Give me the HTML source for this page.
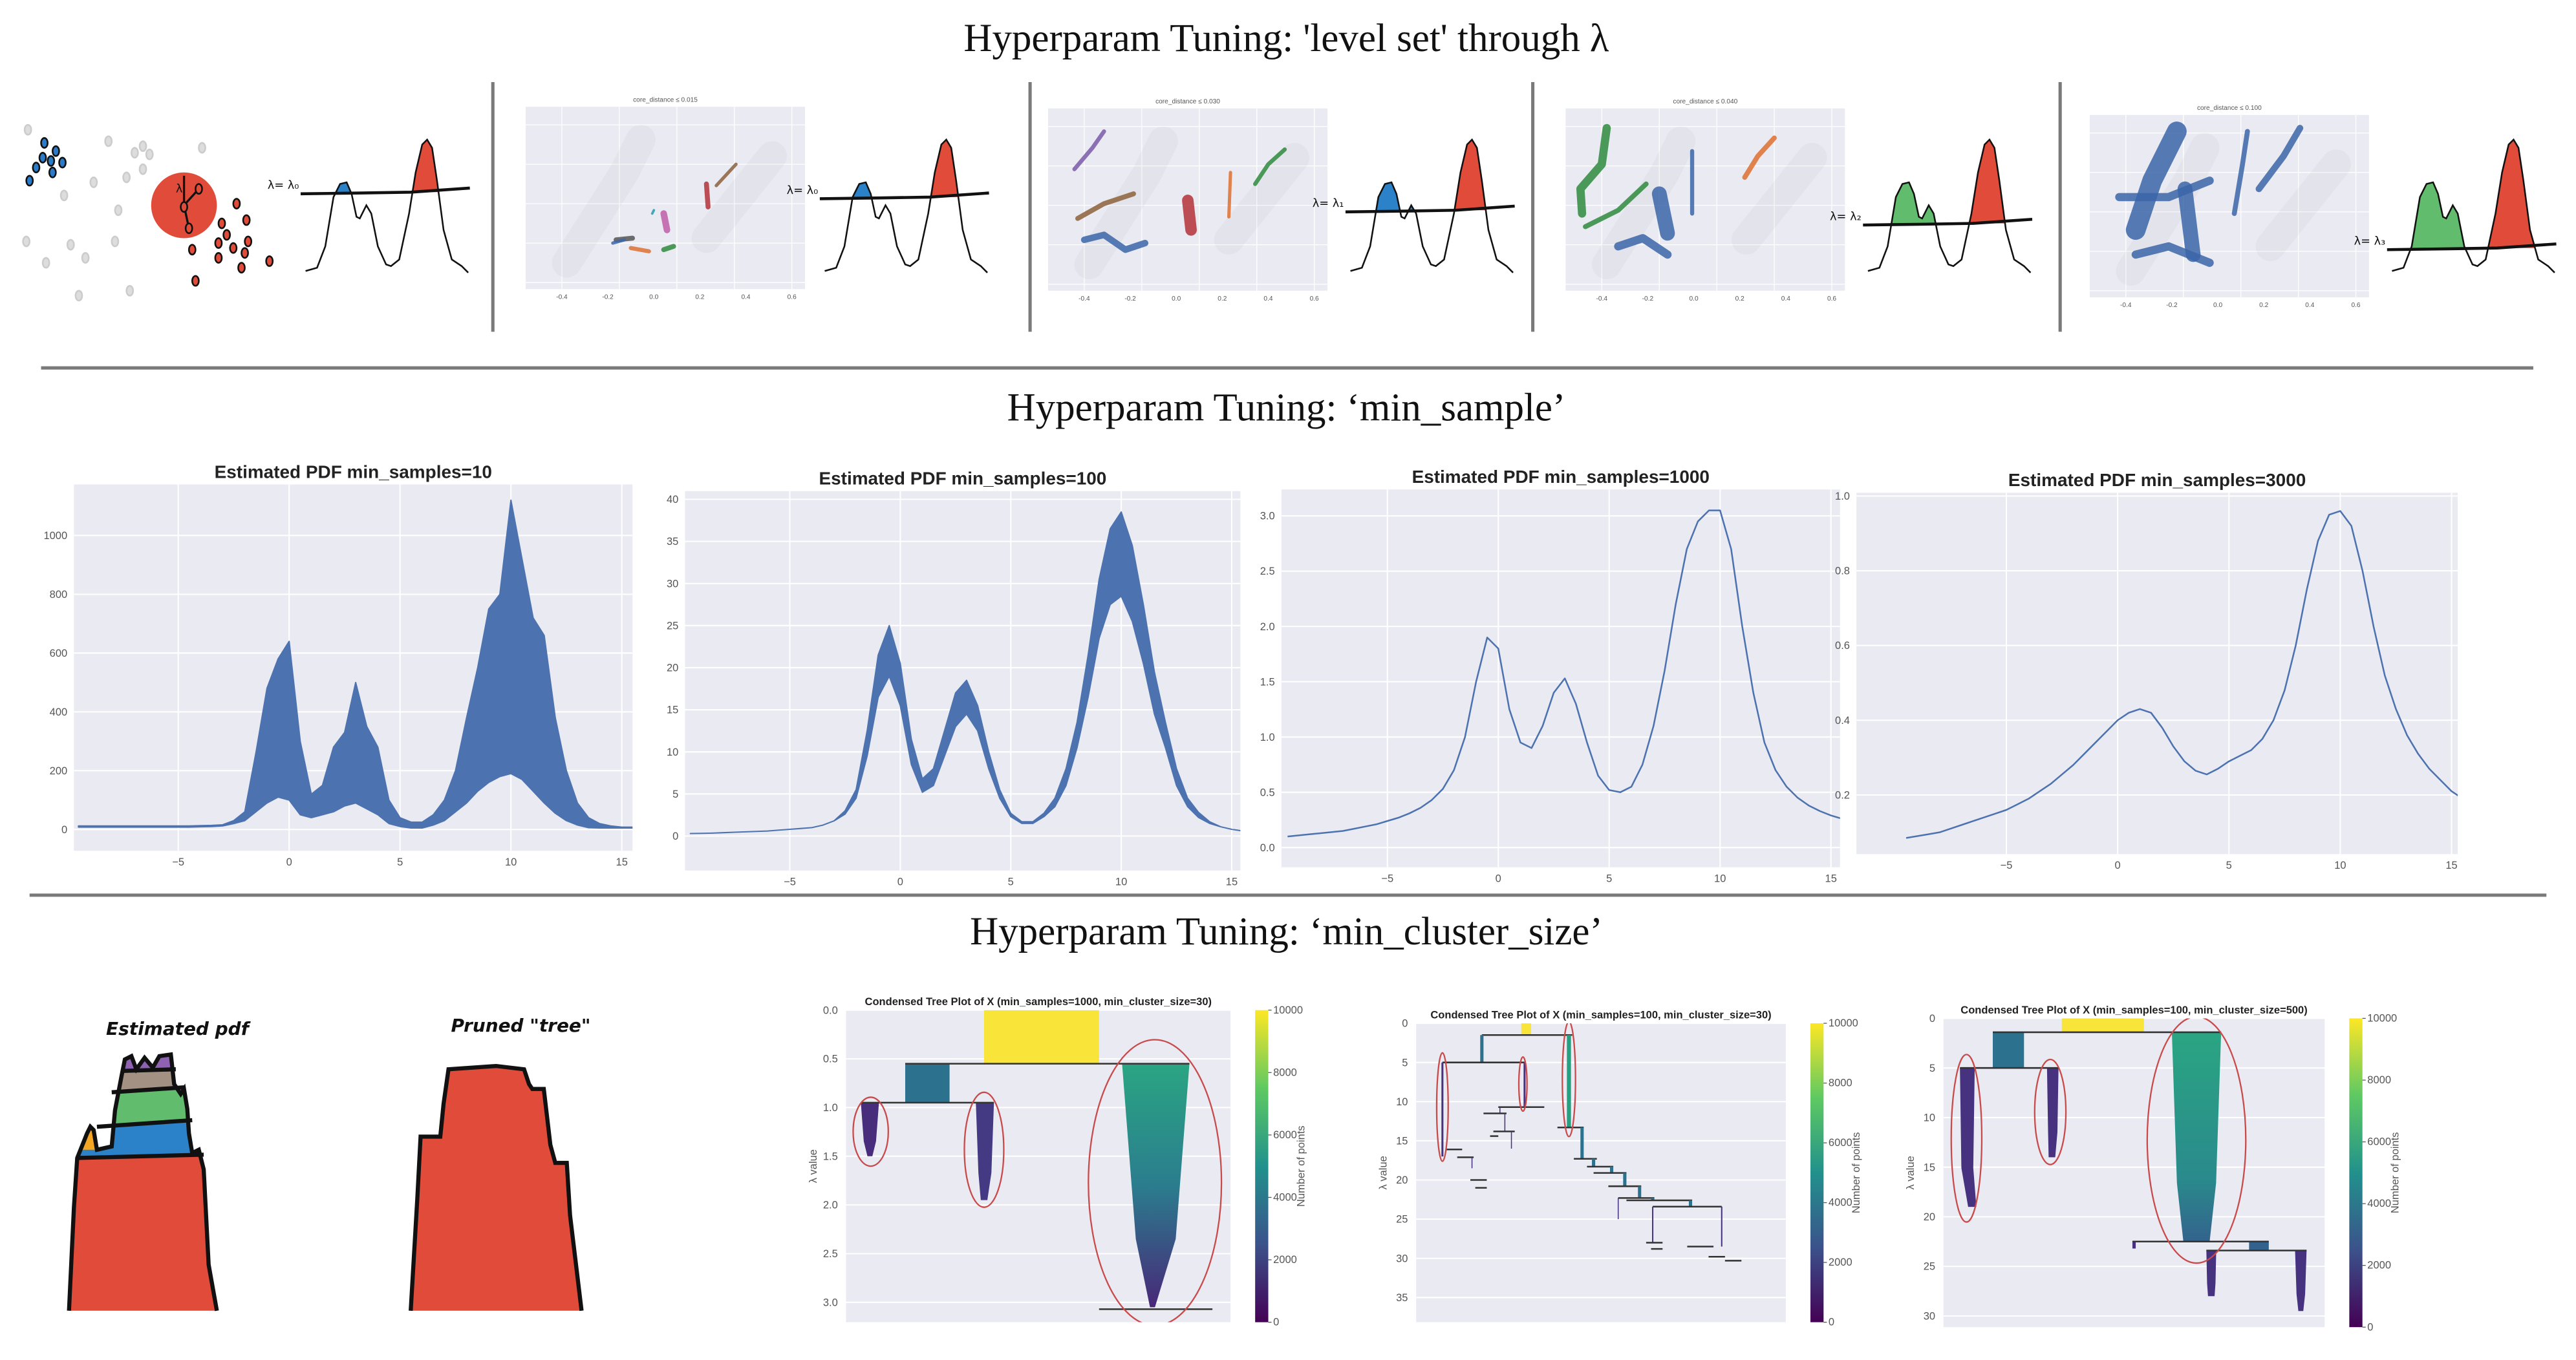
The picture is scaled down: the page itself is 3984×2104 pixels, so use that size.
<!DOCTYPE html>
<html><head><meta charset="utf-8">
<style>
html,body{margin:0;padding:0;background:#fff;}
svg{display:block;}
.ttl{font-family:"Liberation Serif",serif;font-size:24px;fill:#111;text-anchor:middle;}
.ct{font-family:"Liberation Sans",sans-serif;font-weight:bold;font-size:11px;fill:#222;text-anchor:middle;}
.tk{font-family:"Liberation Sans",sans-serif;font-size:6.5px;fill:#555;}
.tt{font-family:"Liberation Sans",sans-serif;font-weight:bold;font-size:6.5px;fill:#222;text-anchor:middle;}
.hand{font-family:"DejaVu Sans",sans-serif;font-style:italic;font-weight:bold;font-size:11px;fill:#111;text-anchor:middle;}
.mini{font-family:"Liberation Sans",sans-serif;font-size:4px;fill:#555;}
</style></head>
<body>
<svg id="root" width="3984" height="2104" viewBox="0 0 1568 828" preserveAspectRatio="none" xmlns="http://www.w3.org/2000/svg">
<defs>
<linearGradient id="vir" x1="0" y1="1" x2="0" y2="0">
<stop offset="0" stop-color="#440154"/><stop offset="0.25" stop-color="#3b528b"/><stop offset="0.5" stop-color="#21918c"/><stop offset="0.75" stop-color="#5ec962"/><stop offset="1" stop-color="#fde725"/>
</linearGradient>
<linearGradient id="cone1" x1="0" y1="0" x2="0" y2="1"><stop offset="0" stop-color="#2aa582"/><stop offset="0.5" stop-color="#2b7d8e"/><stop offset="1" stop-color="#482878"/></linearGradient>
<linearGradient id="cone3" x1="0" y1="0" x2="0" y2="1"><stop offset="0" stop-color="#2aa582"/><stop offset="0.7" stop-color="#2a8a8c"/><stop offset="1" stop-color="#33638d"/></linearGradient>
</defs>

<text class="ttl" x="783" y="31">Hyperparam Tuning: 'level set' through λ</text>
<text class="ttl" x="783" y="256">Hyperparam Tuning: ‘min_sample’</text>
<text class="ttl" x="783" y="575">Hyperparam Tuning: ‘min_cluster_size’</text>

<g stroke="#7a7a7a" stroke-width="2">
<line x1="300" y1="50" x2="300" y2="202"/><line x1="627" y1="50" x2="627" y2="202"/>
<line x1="933" y1="50" x2="933" y2="202"/><line x1="1254" y1="50" x2="1254" y2="202"/>
<line x1="25" y1="224" x2="1542" y2="224"/><line x1="18" y1="545" x2="1550" y2="545"/>
</g>

<g id="schematic" stroke="#111" stroke-width="1">
<g fill="#ddd" stroke="#ccc">
<ellipse cx="17" cy="79" rx="2" ry="3"/><ellipse cx="66" cy="86" rx="2" ry="3"/><ellipse cx="87" cy="89" rx="2" ry="3"/><ellipse cx="123" cy="90" rx="2" ry="3"/>
<ellipse cx="82" cy="93" rx="2" ry="3"/><ellipse cx="91" cy="94" rx="2" ry="3"/><ellipse cx="87" cy="103" rx="2" ry="3"/><ellipse cx="57" cy="111" rx="2" ry="3"/>
<ellipse cx="77" cy="108" rx="2" ry="3"/><ellipse cx="39" cy="119" rx="2" ry="3"/><ellipse cx="72" cy="128" rx="2" ry="3"/><ellipse cx="70" cy="147" rx="2" ry="3"/>
<ellipse cx="16" cy="147" rx="2" ry="3"/><ellipse cx="43" cy="149" rx="2" ry="3"/><ellipse cx="52" cy="157" rx="2" ry="3"/><ellipse cx="28" cy="160" rx="2" ry="3"/>
<ellipse cx="48" cy="180" rx="2" ry="3"/><ellipse cx="79" cy="177" rx="2" ry="3"/></g>
<g fill="#2b7bc8">
<ellipse cx="27" cy="87" rx="2" ry="3"/><ellipse cx="34" cy="92" rx="2" ry="3"/><ellipse cx="26" cy="96" rx="2" ry="3"/><ellipse cx="31" cy="98" rx="2" ry="3"/>
<ellipse cx="38" cy="99" rx="2" ry="3"/><ellipse cx="22" cy="102" rx="2" ry="3"/><ellipse cx="32" cy="105" rx="2" ry="3"/><ellipse cx="18" cy="110" rx="2" ry="3"/></g>
<ellipse cx="112" cy="125" rx="20" ry="20" fill="#e04b3a" stroke="none"/>
<path d="M112 107 L112 124 M112 125 L121 115 M112 125 L115 139" fill="none" stroke-width="1.3"/>
<g fill="#e04b3a"><ellipse cx="121" cy="115" rx="2" ry="3"/><ellipse cx="112" cy="126" rx="2" ry="3"/><ellipse cx="115" cy="139" rx="2" ry="3"/>
<ellipse cx="144" cy="124" rx="2" ry="3"/><ellipse cx="150" cy="134" rx="2" ry="3"/><ellipse cx="135" cy="136" rx="2" ry="3"/><ellipse cx="138" cy="143" rx="2" ry="3"/>
<ellipse cx="151" cy="147" rx="2" ry="3"/><ellipse cx="133" cy="148" rx="2" ry="3"/><ellipse cx="142" cy="151" rx="2" ry="3"/><ellipse cx="149" cy="154" rx="2" ry="3"/>
<ellipse cx="117" cy="152" rx="2" ry="3"/><ellipse cx="133" cy="157" rx="2" ry="3"/><ellipse cx="164" cy="159" rx="2" ry="3"/><ellipse cx="147" cy="163" rx="2" ry="3"/><ellipse cx="119" cy="171" rx="2" ry="3"/></g>
<text x="107" y="117" font-size="7" stroke="none" fill="#111" font-family="DejaVu Sans">λ</text>
</g>

<g id="row1s"></g>
<g id="row1"></g>
<g id="row2"></g>
<g id="row3"></g>

<g>
<text class="hand" x="108" y="630">Estimated pdf</text>
<path d="M42 798 L45 735 L47 705 L53 690 L55 686 L57 688 L59 700 L68 698 L70 676 L74 655 L76 645 L80 643 L83 651 L88 644 L93 650 L97 643 L104 642 L106 660 L110 666 L112 663 L114 675 L115 690 L117 702 L121 700 L124 712 L127 770 L132 798 Z" fill="#e04b3a"/>
<clipPath id="drawclip"><path d="M42 798 L45 735 L47 705 L53 690 L55 686 L57 688 L59 700 L68 698 L70 676 L74 655 L76 645 L80 643 L83 651 L88 644 L93 650 L97 643 L104 642 L106 660 L110 666 L112 663 L114 675 L115 690 L117 702 L121 700 L124 712 L127 770 L132 798 Z"/></clipPath>
<g clip-path="url(#drawclip)">
<path d="M40 705 L130 702 L130 682 L40 686 Z" fill="#2b82c9"/>
<path d="M40 686 L130 682 L130 662 L40 665 Z" fill="#62bc6d"/>
<path d="M40 665 L130 662 L130 651 L40 652 Z" fill="#a39183"/>
<path d="M40 652 L130 651 L130 630 L40 630 Z" fill="#8e62b0"/>
<path d="M40 700 L60 700 L60 680 L40 680 Z" fill="#f5a623"/>
</g>
<path d="M42 798 L45 735 L47 705 L53 690 L55 686 L57 688 L59 700 L68 698 L70 676 L74 655 L76 645 L80 643 L83 651 L88 644 L93 650 L97 643 L104 642 L106 660 L110 666 L112 663 L114 675 L115 690 L117 702 L121 700 L124 712 L127 770 L132 798" fill="none" stroke="#111" stroke-width="2.5"/>
<path d="M47 705 L124 703 M59 686 L117 682 M68 665 L112 662 M74 652 L107 651" stroke="#111" stroke-width="2.5" fill="none"/>
</g>
<g transform="translate(2,0)">
<text class="hand" x="315" y="628">Pruned "tree"</text>
<path d="M248 798 L252 730 L254 692 L266 692 L268 672 L271 651 L300 649 L317 651 L320 660 L322 663 L329 663 L331 680 L333 697 L336 708 L343 708 L345 740 L352 798 Z" fill="#e04b3a"/>
<path d="M248 798 L252 730 L254 692 L266 692 L268 672 L271 651 L300 649 L317 651 L320 660 L322 663 L329 663 L331 680 L333 697 L336 708 L343 708 L345 740 L352 798" fill="none" stroke="#111" stroke-width="2.5"/>
</g>
</svg>

<script>
var xGrid=[-9.5,-9,-8.5,-8,-7.5,-7,-6.5,-6,-5.5,-5,-4.5,-4,-3.5,-3,-2.5,-2,-1.5,-1,-0.5,0,0.5,1,1.5,2,2.5,3,3.5,4,4.5,5,5.5,6,6.5,7,7.5,8,8.5,9,9.5,10,10.5,11,11.5,12,12.5,13,13.5,14,14.5,15,15.5];
var xTickLabels=[-5,0,5,10,15];
var pdf10Upper=[12,12,12,12,12,12,12,12,12,12,12,13,14,16,30,60,260,480,580,640,300,120,150,280,330,500,350,280,100,40,25,25,50,100,200,380,550,750,800,1120,920,720,660,380,200,90,40,20,12,8,8];
var pdf10Lower=[8,8,8,8,8,8,8,8,8,8,8,9,10,12,20,30,60,90,110,100,50,40,50,60,80,90,70,50,20,10,5,5,15,30,60,90,130,160,180,190,170,130,90,55,30,15,6,5,5,5,5];
var pdf100Center=[.3,.32,.35,.4,.45,.5,.55,.6,.7,.8,.9,1.0,1.3,1.8,2.8,5,11,19,22,18,10,6,7,11,15,16.5,14,9,5,2.5,1.6,1.6,2.5,4,7,12,19,27,32,33.5,30,24,17,12,7,4,2.5,1.6,1.1,.8,.6];
var pdf100Spread=[0,0,0,0,0,0,0,0,0,0,0,0,0,0,.2,.5,1.5,2.5,3,2.5,1.5,.8,1,1.5,2,2,1.5,1,.5,.2,.1,.1,.2,.5,1,1.5,2.5,3.5,4.5,5,4.5,3.5,2.5,1.5,1,.5,.3,.1,0,0,0];
var pdf1000=[.1,.11,.12,.13,.14,.15,.17,.19,.21,.24,.27,.31,.36,.43,.53,.7,1.0,1.5,1.9,1.8,1.25,.95,.9,1.1,1.4,1.53,1.3,.95,.65,.52,.5,.55,.75,1.1,1.6,2.2,2.7,2.95,3.05,3.05,2.7,2.0,1.4,.95,.7,.55,.45,.38,.33,.29,.26];
var pdf3000=[.085,.09,.095,.1,.11,.12,.13,.14,.15,.16,.175,.19,.21,.23,.255,.28,.31,.34,.37,.4,.42,.43,.42,.38,.33,.29,.265,.255,.27,.29,.305,.32,.35,.4,.48,.6,.75,.88,.95,.96,.92,.8,.65,.52,.43,.36,.31,.27,.24,.21,.19];
var yTicks10=[0,200,400,600,800,1000];
var yTicks100=[0,5,10,15,20,25,30,35,40];
var yTicks1000=[0,0.5,1.0,1.5,2.0,2.5,3.0];
var yTicks3000=[0.2,0.4,0.6,0.8,1.0];
var colorbarTicks=[0,2000,4000,6000,8000,10000];
var tree1Ticks=[0.0,0.5,1.0,1.5,2.0,2.5,3.0];
var tree2Ticks=[0,5,10,15,20,25,30,35];
var tree3Ticks=[0,5,10,15,20,25,30];

var NS="http://www.w3.org/2000/svg";
function mk(tag,attrs,parent){var e=document.createElementNS(NS,tag);for(var k in attrs)e.setAttribute(k,attrs[k]);if(parent)parent.appendChild(e);return e;}

function pdfChart(cfg){
  var g=mk('g',{},document.getElementById('row2'));
  
  
  var b=cfg.box;
  function sx(v){return cfg.x0+cfg.kx*v;}
  function sy(v){return cfg.y0-cfg.ky*(v-cfg.yb);}
  var bg=mk('rect',{x:b[0],y:b[1],width:b[2]-b[0],height:b[3]-b[1],fill:'#eaeaf2'},g);
  
  
  xTickLabels.forEach(function(t){
    mk('line',{x1:sx(t),x2:sx(t),y1:b[1],y2:b[3],stroke:'#fff','stroke-width':0.8},g);
    var tx=mk('text',{x:sx(t),y:b[3]+9,'class':'tk','text-anchor':'middle'},g);tx.textContent=(t<0?'\u2212':'')+Math.abs(t);
    
    
  });
  cfg.yticks.forEach(function(t){
    mk('line',{x1:b[0],x2:b[2],y1:sy(t),y2:sy(t),stroke:'#fff','stroke-width':0.8},g);
    var tx=mk('text',{x:b[0]-4,y:sy(t)+2.2,'class':'tk','text-anchor':'end'},g);tx.textContent=cfg.fmt(t);
    
    
  });
  var cp='clip'+cfg.name;
  var c=mk('clipPath',{id:cp},g);mk('rect',{x:b[0],y:b[1],width:b[2]-b[0],height:b[3]-b[1]},c);
  var inner=mk('g',{'clip-path':'url(#'+cp+')'},g);
  if(cfg.upper){
    var pts=[];
    for(var i=0;i<xGrid.length;i++)pts.push(sx(xGrid[i]).toFixed(2)+','+sy(cfg.upper[i]).toFixed(2));
    for(var j=xGrid.length-1;j>=0;j--)pts.push(sx(xGrid[j]).toFixed(2)+','+sy(cfg.lower[j]).toFixed(2));
    var band=mk('polygon',{points:pts.join(' '),fill:'#4c72b0',stroke:'#4c72b0','stroke-width':0.8,'stroke-linejoin':'round'},inner);
    
    
  } else {
    var p=[];
    for(var i2=0;i2<xGrid.length;i2++)p.push(sx(xGrid[i2]).toFixed(2)+','+sy(cfg.values[i2]).toFixed(2));
    var ln=mk('polyline',{points:p.join(' '),fill:'none',stroke:'#4c72b0','stroke-width':1,'stroke-linejoin':'round'},inner);
    
    
  }
  var t=mk('text',{x:(b[0]+b[2])/2,y:b[1]-4,'class':'ct'},g);t.textContent=cfg.title;
  
  
}
var up100=pdf100Center.map(function(v,i){return v+pdf100Spread[i];});
var lo100=pdf100Center.map(function(v,i){return v-pdf100Spread[i];});
pdfChart({name:'pdf-min-samples-10',title:'Estimated PDF min_samples=10',box:[45,295,385,518],x0:176,kx:13.5,y0:505,ky:0.179,yb:0,yticks:yTicks10,fmt:function(v){return ''+v;},upper:pdf10Upper,lower:pdf10Lower});
pdfChart({name:'pdf-min-samples-100',title:'Estimated PDF min_samples=100',box:[417,299,755,530],x0:548,kx:13.45,y0:509,ky:5.125,yb:0,yticks:yTicks100,fmt:function(v){return ''+v;},upper:up100,lower:lo100});
pdfChart({name:'pdf-min-samples-1000',title:'Estimated PDF min_samples=1000',box:[780,298,1120,528],x0:912,kx:13.5,y0:516,ky:67.3,yb:0,yticks:yTicks1000,fmt:function(v){return v.toFixed(1);},values:pdf1000});
pdfChart({name:'pdf-min-samples-3000',title:'Estimated PDF min_samples=3000',box:[1130,300,1496,520],x0:1289,kx:13.55,y0:484,ky:227.5,yb:0.2,yticks:yTicks3000,fmt:function(v){return v.toFixed(1);},values:pdf3000});

(function(){
  var r=document.getElementById('row1');
  var rs=document.getElementById('row1s');
  var curve="M186 165 L193 163 L198 150 L203 120 L207 112 L211 111 L214 118 L217 132 L219 133 L223 125 L226 130 L230 150 L235 161 L238 162 L243 158 L249 130 L253 105 L257 88 L260 85 L263 90 L266 110 L270 140 L275 158 L281 162 L285 166";
  var panels=[
    {dx:0,lvl:117,label:'λ= λ₀',left:'#2b82c9'},
    {dx:316,lvl:120,label:'λ= λ₀',left:'#2b82c9'},
    {dx:636,lvl:128,label:'λ= λ₁',left:'#2b82c9'},
    {dx:951,lvl:136,label:'λ= λ₂',left:'#62bc6d'},
    {dx:1270,lvl:151,label:'λ= λ₃',left:'#62bc6d'}
  ];
  panels.forEach(function(p,k){
    var g=mk('g',{transform:'translate('+p.dx+',0)'},r);
    
    
    var id='lv'+k;
    var c=mk('clipPath',{id:id},g);mk('rect',{x:180,y:60,width:110,height:p.lvl-60},c);
    var fg=mk('g',{'clip-path':'url(#'+id+')'},g);
    var cl='lvl'+k, cr='lvr'+k;
    var c1=mk('clipPath',{id:cl},g);mk('rect',{x:180,y:0,width:63,height:200},c1);
    var c2=mk('clipPath',{id:cr},g);mk('rect',{x:243,y:0,width:50,height:200},c2);
    mk('path',{d:curve+' Z',fill:p.left,'clip-path':'url(#'+cl+')'},fg);
    mk('path',{d:curve+' Z',fill:'#e04b3a','clip-path':'url(#'+cr+')'},fg);
    mk('path',{d:curve,fill:'none',stroke:'#111','stroke-width':1},g);
    mk('path',{d:'M183 '+(p.lvl+1)+' L220 '+(p.lvl+0.5)+' L250 '+p.lvl+' L286 '+(p.lvl-2.5),fill:'none',stroke:'#111','stroke-width':1.8},g);
    var t=mk('text',{x:182,y:p.lvl-2,'font-family':'DejaVu Sans','font-size':'7','fill':'#111','text-anchor':'end'},g);t.textContent=p.label;
    
    
  });
  var scat=[
    {x:320,y:65,title:'core_distance ≤ 0.015',clusters:[
      ['#555','M375 146 L385 145',3],['#c05ea8','M404 130 L406 140',4],['#b5313a','M430 112 L431 126',3],['#8c613c','M436 113 L448 100',2],
      ['#3b65a8','M373 148 L380 146',2],['#dd7030','M384 151 L395 153',2.5],['#2e8b3e','M404 152 L410 150',3],['#2a9bb0','M397 130 L398 128',1.5]]},
    {x:638,y:66,title:'core_distance ≤ 0.030',clusters:[
      ['#7a5ba8','M654 103 L665 90 L672 80',2.5],['#8c613c','M656 133 L672 124 L690 118',3],['#b5313a','M723 122 L725 140',7],['#dd7030','M749 105 L748 132',2],
      ['#2e8b3e','M764 112 L772 100 L782 91',2.5],['#3b65a8','M660 146 L672 143 L685 152 L697 148',4]]},
    {x:953,y:66,title:'core_distance ≤ 0.040',clusters:[
      ['#2e8b3e','M978 78 L975 100 L962 115 L963 130',5],['#2e8b3e','M965 138 L985 128 L1002 112',3],['#3b65a8','M1010 118 L1015 142',9],
      ['#3b65a8','M985 150 L1000 145 L1015 155',5],['#3b65a8','M1030 92 L1030 130',2.5],['#dd7030','M1062 108 L1070 95 L1080 84',3]]},
    {x:1272,y:70,title:'core_distance ≤ 0.100',clusters:[
      ['#3b65a8','M1300 140 L1310 110 L1325 80',12],['#3b65a8','M1290 120 L1320 120 L1345 110',5],['#3b65a8','M1300 155 L1320 150 L1345 160',5],
      ['#3b65a8','M1330 115 L1335 155',9],['#3b65a8','M1360 130 L1365 100 L1368 80',3],['#3b65a8','M1375 115 L1390 95 L1400 78',4]]}
  ];
  scat.forEach(function(s){
    var g=mk('g',{},rs);
    
    
    mk('rect',{x:s.x,y:s.y,width:170,height:111,fill:'#eaeaf2'},g);
    for(var i=0;i<5;i++){mk('line',{x1:s.x+22+i*35,x2:s.x+22+i*35,y1:s.y,y2:s.y+111,stroke:'#fff','stroke-width':0.5},g);}
    for(var j=0;j<5;j++){mk('line',{x1:s.x,x2:s.x+170,y1:s.y+11+j*24,y2:s.y+11+j*24,stroke:'#fff','stroke-width':0.5},g);}
    mk('path',{d:'M'+(s.x+25)+' '+(s.y+95)+' L'+(s.x+60)+' '+(s.y+40)+' L'+(s.x+70)+' '+(s.y+20)+' M'+(s.x+110)+' '+(s.y+80)+' L'+(s.x+150)+' '+(s.y+30),stroke:'#999','stroke-width':18,'stroke-opacity':0.08,fill:'none','stroke-linecap':'round'},g);
    s.clusters.forEach(function(cc){mk('path',{d:cc[1],stroke:cc[0],'stroke-width':cc[2],fill:'none','stroke-linecap':'round','stroke-linejoin':'round','stroke-opacity':0.85},g);});
    var t=mk('text',{x:s.x+85,y:s.y-3,'class':'mini','text-anchor':'middle'},g);t.textContent=s.title;
    
    
    ['-0.4','-0.2','0.0','0.2','0.4','0.6'].forEach(function(l,i){var tt=mk('text',{x:s.x+22+i*28,y:s.y+117,'class':'mini','text-anchor':'middle'},g);tt.textContent=l;});
  });
})();

(function(){
  var r=document.getElementById('row3');
  function tree(cfg,draw){
    var g=mk('g',{},r);
    
    
    var b=cfg.box;
    function sy(v){return cfg.y0+cfg.ky*v;}
    mk('rect',{x:b[0],y:b[1],width:b[2]-b[0],height:b[3]-b[1],fill:'#eaeaf2'},g);
    cfg.ticks.forEach(function(t){
      mk('line',{x1:b[0],x2:b[2],y1:sy(t),y2:sy(t),stroke:'#fff','stroke-width':0.8},g);
      var tx=mk('text',{x:b[0]-5,y:sy(t)+2.2,'class':'tk','text-anchor':'end'},g);tx.textContent=cfg.fmt(t);
      
      
    });
    var t=mk('text',{x:(b[0]+b[2])/2,y:b[1]-3,'class':'tt'},g);t.textContent=cfg.title;
    
    
    var yl=mk('text',{x:0,y:0,'class':'tk','text-anchor':'middle',transform:'translate('+(b[0]-18)+','+((b[1]+b[3])/2)+') rotate(-90)'},g);yl.textContent='λ value';
    
    
    var cb=mk('rect',{x:cfg.cb,y:b[1],width:8,height:b[3]-b[1],fill:'url(#vir)'},g);
    
    
    colorbarTicks.forEach(function(v){var yy=b[3]-(b[3]-b[1])*v/10000;var tt=mk('text',{x:cfg.cb+11,y:yy+2,'class':'tk','font-size':'5.5'},g);tt.textContent=v;mk('line',{x1:cfg.cb+8,x2:cfg.cb+10,y1:yy,y2:yy,stroke:'#555','stroke-width':0.5},g);});
    var cl=mk('text',{x:0,y:0,'class':'tk','font-size':'5.5','text-anchor':'middle',transform:'translate('+(cfg.cb+30)+','+((b[1]+b[3])/2)+') rotate(-90)'},g);cl.textContent='Number of points';
    
    
    var cp='cp'+cfg.name;var c=mk('clipPath',{id:cp},g);mk('rect',{x:b[0],y:b[1],width:b[2]-b[0],height:b[3]-b[1]},c);
    var inner=mk('g',{'clip-path':'url(#'+cp+')'},g);
    draw(inner,sy);
  }
  function R(g,x1,x2,l1,l2,fill,sy){return mk('rect',{x:x1,y:sy(l1),width:x2-x1,height:sy(l2)-sy(l1),fill:fill},g);}
  function cone(g,x1,x2,xb1,xb2,l1,l2,fill,sy){
    var lm=l1+(l2-l1)*0.72, w=(x2-x1), wb=(xb2-xb1);
    var m1=x1+ (w-wb)*0.22, m2=x2-(w-wb)*0.22;
    return mk('polygon',{points:x1+','+sy(l1)+' '+x2+','+sy(l1)+' '+m2+','+sy(lm)+' '+xb2+','+sy(l2)+' '+xb1+','+sy(l2)+' '+m1+','+sy(lm),fill:fill},g);}
  function H(g,x1,x2,l,sy,w){mk('line',{x1:x1,x2:x2,y1:sy(l),y2:sy(l),stroke:'#333','stroke-width':w||1},g);}
  function V(g,x,l1,l2,c,sy,w){mk('line',{x1:x,x2:x,y1:sy(l1),y2:sy(l2),stroke:c,'stroke-width':w||1},g);}
  function E(g,cx,cy,rx,ry){mk('ellipse',{cx:cx,cy:cy,rx:rx,ry:ry,fill:'none',stroke:'#c94a4a','stroke-width':0.9},g);}

  tree({name:'condensed-tree-1000-30',title:'Condensed Tree Plot of X (min_samples=1000, min_cluster_size=30)',box:[515,615,749,805],y0:615,ky:59.3,ticks:tree1Ticks,fmt:function(v){return v.toFixed(1);},cb:764},function(g,sy){
    R(g,599,669,0,0.55,'#f9e43a',sy);
    R(g,551,578,0.55,0.95,'#2c728e',sy);
    cone(g,524,535,528,531,0.95,1.5,'#472d7b',sy);
    cone(g,594,605,597,601,0.95,1.95,'#443983',sy);
    cone(g,683,724,700,703,0.55,3.05,'url(#cone1)',sy);
    H(g,551,724,0.55,sy);H(g,524,605,0.95,sy);H(g,669,738,3.07,sy);
    E(g,530,689,10.7,21);E(g,599,700,12,35);E(g,703,720,40.5,87);
  });
  tree({name:'condensed-tree-100-30',title:'Condensed Tree Plot of X (min_samples=100, min_cluster_size=30)',box:[862,623,1087,805],y0:623,ky:4.77,ticks:tree2Ticks,fmt:function(v){return ''+v;},cb:1102},function(g,sy){
    R(g,926,932,0,1.5,'#f9e43a',sy);
    H(g,902,957,1.5,sy);V(g,902,1.5,5,'#2c728e',sy,2);V(g,955,1.5,13.3,'#27a082',sy,2.5);
    H(g,878,928,5,sy);V(g,878,5,17,'#46327e',sy,1.2);V(g,928,5,10.7,'#46327e',sy,1.2);
    H(g,912,940,10.7,sy);V(g,913,10.7,11.5,'#46327e',sy,0.6);H(g,903,917,11.5,sy);V(g,916,11.5,13.8,'#46327e',sy,0.6);H(g,909,922,13.8,sy);H(g,907,912,14.4,sy);V(g,920,13.8,16,'#46327e',sy,0.6);
    H(g,880,890,16.1,sy);H(g,887,897,17.1,sy);V(g,896,17.1,18.5,'#46327e',sy,0.6);H(g,895,905,20,sy);H(g,898,905,21,sy);
    var chain=[[13.3,948,964,963,17.3],[17.3,958,972,970,18.3],[18.3,966,982,981,19.1],[19.1,970,990,989,20.8],[20.8,979,999,998,22.3],[22.3,985,1007,1006,22.6],[22.6,990,1030,1029,23.4]];
    chain.forEach(function(c){H(g,c[1],c[2],c[0],sy);V(g,c[3],c[0],c[4],'#2c728e',sy,2);});
    H(g,1006,1048,23.4,sy);V(g,1006,23.4,28,'#46327e',sy,0.8);V(g,1048,23.4,28.5,'#46327e',sy,0.8);V(g,985,22.3,25,'#46327e',sy,0.6);
    H(g,1002,1012,28,sy);H(g,1027,1043,28.5,sy);H(g,1040,1050,29.8,sy);H(g,1050,1060,30.3,sy);H(g,1005,1012,28.8,sy);
    E(g,878,674,3.5,33);E(g,927,660,2.5,16.5);E(g,955,657,4,35);
  });
  tree({name:'condensed-tree-100-500',title:'Condensed Tree Plot of X (min_samples=100, min_cluster_size=500)',box:[1183,620,1415,808],y0:620,ky:6.04,ticks:tree3Ticks,fmt:function(v){return ''+v;},cb:1430},function(g,sy){
    R(g,1255,1305,0,1.4,'#f9e43a',sy);
    R(g,1213,1232,1.4,5,'#2c728e',sy);
    cone(g,1193,1202,1198,1203,5,19,'#46327e',sy);
    cone(g,1246,1253,1247,1251,5,14,'#46327e',sy);
    cone(g,1322,1352,1329,1345,1.4,22.5,'url(#cone3)',sy);
    R(g,1369,1381,22.5,23.4,'#33638d',sy);
    R(g,1298,1300,22.5,23.2,'#46327e',sy);
    cone(g,1343,1349,1344,1348,23.4,28,'#46327e',sy);
    cone(g,1397,1404,1399,1402,23.4,29.5,'#46327e',sy);
    H(g,1213,1352,1.4,sy);H(g,1193,1253,5,sy);H(g,1298,1381,22.5,sy);H(g,1343,1404,23.4,sy);
    E(g,1197,693,9.3,51);E(g,1248,677,9.5,32);E(g,1337,694,30,75);
  });
})();
</script>
</body></html>
